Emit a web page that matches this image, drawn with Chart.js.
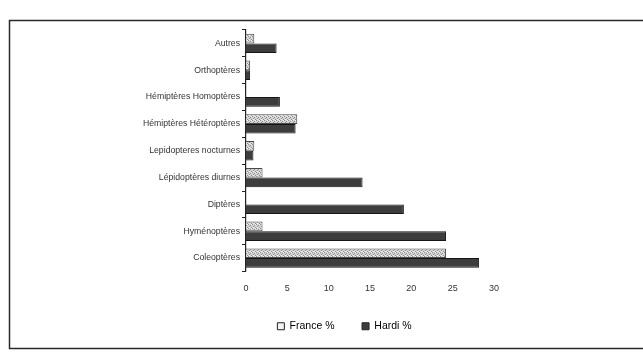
<!DOCTYPE html>
<html>
<head>
<meta charset="utf-8">
<script src="https://cdn.jsdelivr.net/npm/chart.js@4"></script>
<style>
  html, body { margin: 0; padding: 0; background: #fff; }
  #wrap { width: 643px; height: 358px; position: relative; }
</style>
</head>
<body>
<div id="wrap"><canvas id="c" width="643" height="358"></canvas></div>
<script>
// Insect orders, listed top to bottom as drawn
const categories = [
  'Autres',
  'Orthoptères',
  'Hémiptères Homoptères',
  'Hémiptères Hétéroptères',
  'Lepidopteres nocturnes',
  'Lépidoptères diurnes',
  'Diptères',
  'Hyménoptères',
  'Coleoptères'
];
const francePct = [1.0, 0.5, 0, 6.2, 1.0, 2.0, 0, 2.0, 24.2];
const hardiPct  = [3.7, 0.5, 4.1, 6.0, 0.9, 14.1, 19.1, 24.2, 28.2];
const xTicks = [0, 5, 10, 15, 20, 25, 30];

// Speckled light-grey fill for the France series
function speckle() {
  const p = document.createElement('canvas');
  p.width = 4; p.height = 4;
  const g = p.getContext('2d');
  g.fillStyle = '#d4d4d4';
  g.fillRect(0, 0, 4, 4);
  g.fillStyle = '#8e8e8e';
  g.fillRect(0, 0, 1, 1);
  g.fillRect(2, 1, 1, 1);
  g.fillRect(1, 2, 1, 1);
  g.fillRect(3, 3, 1, 1);
  g.fillStyle = '#f2f2f2';
  g.fillRect(3, 0, 1, 1);
  g.fillRect(1, 3, 1, 1);
  return g.createPattern(p, 'repeat');
}
const ctx = document.getElementById('c').getContext('2d');
const franceFill = speckle();

// Page background and the surrounding frame
const framePlugin = {
  id: 'frame',
  beforeDraw(chart) {
    const g = chart.ctx;
    g.save();
    g.fillStyle = '#ffffff';
    g.fillRect(0, 0, chart.width, chart.height);
    g.strokeStyle = '#2a2a2a';
    g.lineWidth = 1.5;
    g.strokeRect(9.5, 20.5, 700, 328);
    g.restore();
  }
};

const font = 'Liberation Sans, Arial, sans-serif';

new Chart(ctx, {
  type: 'bar',
  data: {
    labels: categories,
    datasets: [
      {
        label: 'France %',
        data: francePct,
        backgroundColor: franceFill,
        borderColor: '#4a4a4a',
        borderWidth: 1,
        yAxisID: 'y'
      },
      {
        label: 'Hardi %',
        data: hardiPct,
        backgroundColor: '#3d3d3d',
        borderColor: '#151515',
        borderWidth: 1,
        yAxisID: 'y'
      }
    ]
  },
  options: {
    indexAxis: 'y',
    responsive: false,
    animation: false,
    layout: { padding: { left: 46, right: 0, top: 30, bottom: 16.5 } },
    datasets: { bar: { categoryPercentage: 0.72, barPercentage: 1.0 } },
    scales: {
      x: {
        type: 'linear',
        min: 0,
        max: 30,
        afterBuildTicks(scale) { scale.ticks = xTicks.map(v => ({ value: v })); },
        afterFit(scale) { scale.height = 22; },
        grid: { display: false, drawTicks: false, tickLength: 0 },
        border: { display: false },
        ticks: {
          color: '#333',
          padding: 12,
          font: { family: font, size: 9 }
        }
      },
      y: {
        position: 'left',
        afterFit(scale) { scale.width = 200; },
        grid: {
          offset: true,
          drawOnChartArea: false,
          drawTicks: true,
          tickLength: 4,
          color: '#222'
        },
        border: { display: true, color: '#222', width: 1.2 },
        ticks: {
          color: '#333',
          padding: 2,
          font: { family: font, size: 8.7 }
        }
      },
      yRight: {
        position: 'right',
        type: 'category',
        labels: categories,
        afterFit(scale) { scale.width = 149; },
        grid: { display: false },
        border: { display: false },
        ticks: { display: false }
      }
    },
    plugins: {
      legend: {
        position: 'bottom',
        labels: {
          color: '#222',
          font: { family: font, size: 10.5 },
          boxWidth: 7,
          boxHeight: 7,
          padding: 27.5,
          generateLabels(chart) {
            return chart.data.datasets.map((ds, i) => ({
              text: ds.label,
              fillStyle: i === 0 ? '#f4f4f4' : '#3d3d3d',
              strokeStyle: '#222',
              lineWidth: 1,
              datasetIndex: i,
              hidden: false
            }));
          }
        }
      },
      tooltip: { enabled: false }
    }
  },
  plugins: [framePlugin]
});
</script>
</body>
</html>
